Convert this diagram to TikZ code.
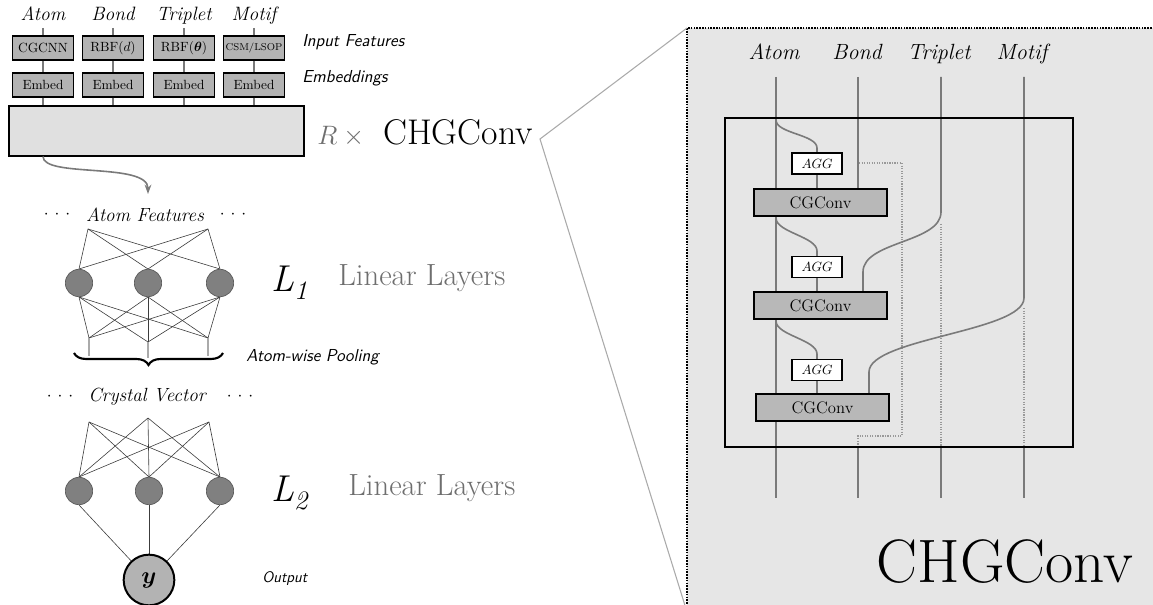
\RequirePackage{fix-cm}
\documentclass[tikz,border=0pt]{standalone}
\usepackage{bm}
\usepackage{fontspec}
\usetikzlibrary{arrows.meta,decorations.pathreplacing,calc}

\definecolor{wirecol}{HTML}{7A7A7A}
\definecolor{panelbg}{HTML}{E6E6E6}
\definecolor{featfill}{HTML}{B3B3B3}
\definecolor{blockbg}{HTML}{E0E0E0}
\definecolor{convfill}{HTML}{B8B8B8}
\definecolor{neuronfill}{HTML}{808080}
\definecolor{neurondraw}{HTML}{5A5A5A}
\definecolor{outfill}{HTML}{B3B3B3}
\definecolor{zoomcol}{HTML}{AAAAAA}
\definecolor{softtext}{HTML}{6E6E6E}
\definecolor{netcol}{HTML}{3C3C3C}
\definecolor{dotcol}{HTML}{999999}

\newcommand\fsz[1]{\fontsize{#1}{#1}\selectfont}

\pgfdeclarelayer{panel}
\pgfdeclarelayer{wires}
\pgfsetlayers{panel,wires,main}

\tikzset{
  colhead/.style={inner sep=0pt, anchor=base, font=\fsz{14.5}\itshape},
  sidenote/.style={inner sep=0pt, anchor=west, font=\fsz{13}\sffamily\itshape},
  featbox/.style={draw=black, line width=0.8pt, fill=featfill, minimum width=45.75pt,
    minimum height=18pt, inner sep=0pt, font=\fsz{10}},
  thinwire/.style={draw=wirecol, line width=1pt},
  bigblock/.style={draw=black, line width=0.8pt, fill=blockbg, minimum width=221.25pt,
    minimum height=37.5pt, inner sep=0pt},
  feedarrow/.style={draw=wirecol, line width=1.2pt, -{Stealth[length=7pt,width=5pt]}},
  neuron/.style={circle, draw=neurondraw, line width=0.5pt, fill=neuronfill,
    minimum size=20.5pt, inner sep=0pt},
  outnode/.style={circle, draw=black, line width=1.5pt, fill=outfill,
    minimum size=38pt, inner sep=0pt, font=\fsz{18}},
  netline/.style={draw=netcol, line width=0.45pt},
  poolline/.style={draw=zoomcol, line width=0.8pt},
  rowlabel/.style={inner sep=0pt, font=\fsz{14.3}\itshape},
  dotrow/.style={inner sep=0pt, font=\fsz{13}},
  layerlabel/.style={inner sep=0pt, anchor=base west, text=softtext, font=\fsz{23}},
  zoomline/.style={draw=zoomcol, line width=0.8pt},
  panelborder/.style={draw=black, line width=1.3pt, dash pattern=on 1.2pt off 0.9pt},
  wire/.style={draw=wirecol, line width=1.2pt},
  dotwire/.style={draw=dotcol, line width=0.9pt, densely dotted},
  stackbox/.style={draw=black, line width=1.1pt, minimum width=261pt,
    minimum height=246.75pt, inner sep=0pt},
  aggbox/.style={draw=black, line width=0.8pt, fill=white, minimum width=37.5pt,
    minimum height=15.75pt, inner sep=0pt, font=\fsz{10}},
  convbox/.style={draw=black, line width=1.4pt, fill=convfill, minimum width=99.75pt,
    minimum height=20.25pt, inner sep=0pt, font=\fsz{12.5}},
  panelhead/.style={inner sep=0pt, anchor=base, font=\fsz{16.5}\itshape},
}

\begin{document}
\begin{tikzpicture}[x=0.75pt,y=-0.75pt]
\useasboundingbox (0,0) rectangle (1153,605);
\clip (0,0) rectangle (1153,605);

% ================= magnified CHGConv panel =================
\coordinate (pnw) at (687,28);
\coordinate (psw) at (687,612);
\coordinate (pne) at (1160,28);
\begin{pgfonlayer}{panel}
\fill[panelbg] (pnw) rectangle (1160,612);
\draw[panelborder] (pne) -- (pnw) -- (psw);
\end{pgfonlayer}

% ================= input features and embeddings =================
\node[bigblock] (block) at (156.5,131) {};

\node[colhead] (la) at (43,21) {Atom};
\node[colhead] (lb) at (113,21) {Bond};
\node[colhead] (lt) at (184,21) {Triplet};
\node[colhead] (lm) at (254,21) {Motif};

\coordinate (ta) at (43,28);
\coordinate (tb) at (113,28);
\coordinate (tt) at (184,28);
\coordinate (tm) at (254,28);

\node[featbox] (ina) at (43,48) {CGCNN};
\node[featbox] (inb) at (113,48) {RBF($d$)};
\node[featbox] (int) at (184,48) {RBF($\bm{\theta}$)};
\node[featbox] (inm) at (254,48) {\fsz{7.5}CSM/LSOP};

\node[featbox] (ema) at (43,85) {Embed};
\node[featbox] (emb) at (113,85) {Embed};
\node[featbox] (emt) at (184,85) {Embed};
\node[featbox] (emm) at (254,85) {Embed};

\foreach \c in {a,b,t,m} {
  \draw[thinwire] (t\c) -- (in\c.north);
  \draw[thinwire] (in\c.south) -- (em\c.north);
  \draw[thinwire] (em\c.south) -- (em\c.south |- block.north);
}

\node[sidenote] (inlbl) at (302,42) {Input Features};
\node[sidenote] (emlbl) at (302,78) {Embeddings};

\node[inner sep=0pt, anchor=base west] (rchg) at (317,145)
  {{\fsz{20}\color{softtext}$R\times{}$}\hspace{10pt}{\fsz{26.8}CHGConv}};

% zoom-out lines to the panel
\coordinate (ztip) at (540,139);
\draw[zoomline] (pnw) -- (ztip) -- (psw);

% atom features leave the stack
\coordinate (featin) at (148,194);
\draw[feedarrow] (ina |- block.south) .. controls (43,178) and (148,162) .. (featin);

% ================= first linear layers =================
\node[dotrow] (afl) at (57,215) {$\cdot$\hspace{4.5pt}$\cdot$\hspace{4.5pt}$\cdot$};
\node[rowlabel] (af) at (145,215) {Atom Features};
\node[dotrow] (afr) at (233,215) {$\cdot$\hspace{4.5pt}$\cdot$\hspace{4.5pt}$\cdot$};

\coordinate (fa1) at (88,229);
\coordinate (fa2) at (208,229);
\node[neuron] (h1) at (79,283) {};
\node[neuron] (h2) at (148,283) {};
\node[neuron] (h3) at (220,283) {};
\begin{pgfonlayer}{wires}
\foreach \s in {fa1,fa2} \foreach \n in {h1,h2,h3} \draw[netline] (\s) -- (\n.north);
\end{pgfonlayer}

\coordinate (pb1) at (89,338);
\coordinate (pb2) at (148,342);
\coordinate (pb3) at (208,338);
\begin{pgfonlayer}{wires}
\foreach \n in {h1,h2,h3} \foreach \s in {pb1,pb2,pb3} \draw[netline] (\n.south) -- (\s);
\end{pgfonlayer}

\coordinate (pe1) at (89,356);
\coordinate (pe2) at (148,358);
\coordinate (pe3) at (208,356);
\foreach \i in {1,2,3} \draw[poolline] (pb\i) -- (pe\i);

\coordinate (brl) at (74,353);
\coordinate (brr) at (223,353);
\draw[line width=1.6pt, decorate, decoration={brace, mirror, amplitude=9pt}] (brl) -- (brr);
\node[sidenote] (pool) at (246,357) {Atom-wise Pooling};

\node[inner sep=0pt, anchor=base west] (l1) at (271,292)
  {{\fsz{28}\itshape L}\raisebox{-6pt}{\fsz{20}\itshape 1}};
\node[layerlabel] (lin1) at (338,286) {Linear Layers};

% ================= second linear layers =================
\node[dotrow] (cvl) at (60,397) {$\cdot$\hspace{4.5pt}$\cdot$\hspace{4.5pt}$\cdot$};
\node[rowlabel] (cv) at (147,397) {Crystal Vector};
\node[dotrow] (cvr) at (240,397) {$\cdot$\hspace{4.5pt}$\cdot$\hspace{4.5pt}$\cdot$};

\coordinate (cv1) at (89,422);
\coordinate (cv2) at (148,418);
\coordinate (cv3) at (209,422);
\node[neuron] (g1) at (79,491) {};
\node[neuron] (g2) at (149,491) {};
\node[neuron] (g3) at (220,491) {};
\node[outnode] (y) at (149,580) {$\bm{y}$};
\begin{pgfonlayer}{wires}
\foreach \s in {cv1,cv2,cv3} \foreach \n in {g1,g2,g3} \draw[netline] (\s) -- (\n.north);
\foreach \n in {g1,g2,g3} \draw[netline] (\n.south) -- (y);
\end{pgfonlayer}
\node[sidenote, font=\fsz{11.5}\sffamily\itshape] (outlbl) at (262,579) {Output};

\node[inner sep=0pt, anchor=base west] (l2) at (271,502)
  {{\fsz{28}\itshape L}\raisebox{-6pt}{\fsz{20}\itshape 2}};
\node[layerlabel] (lin2) at (348,496) {Linear Layers};

% ================= panel contents =================
\node[panelhead] (pa) at (774,60) {Atom};
\node[panelhead] (pb) at (857,60) {Bond};
\node[panelhead] (pt) at (939,60) {Triplet};
\node[panelhead] (pm) at (1022,60) {Motif};

\node[stackbox] (stack) at (899,282.5) {};

\node[aggbox] (agg1) at (817,163.5) {$AGG$};
\node[aggbox] (agg2) at (817,267) {$AGG$};
\node[aggbox] (agg3) at (817,370) {$AGG$};
\node[convbox] (cg1) at (820.5,202.5) {CGConv};
\node[convbox] (cg2) at (820.5,305.5) {CGConv};
\node[convbox] (cg3) at (822.5,407.5) {CGConv};

\coordinate (wa0) at (776,77);   \coordinate (wa1) at (776,498);
\coordinate (wb0) at (858,77);   \coordinate (wb1) at (858,498);
\coordinate (wt0) at (941,77);   \coordinate (wt1) at (941,498);
\coordinate (wm0) at (1024,77);  \coordinate (wm1) at (1024,498);

\coordinate (ab1) at (776,120);  \coordinate (ae1) at (817,148);
\coordinate (ab2) at (776,218);  \coordinate (ae2) at (817,251);
\coordinate (ab3) at (776,321);  \coordinate (ae3) at (817,354);
\coordinate (bd0) at (859,163);
\coordinate (bd1) at (902,163);
\coordinate (bd2) at (902,436);
\coordinate (bd3) at (858,436);
\coordinate (bd4) at (858,447);
\coordinate (tb1) at (941,212);
\coordinate (te1) at (863,272);
\coordinate (td0) at (941,224);
\coordinate (td1) at (941,447);
\coordinate (mb1) at (1024,298);
\coordinate (me1) at (869,372);
\coordinate (md0) at (1024,308);
\coordinate (md1) at (1024,447);

\begin{pgfonlayer}{wires}
% atom stream with its copies into the aggregators
\draw[wire] (wa0) -- (wa1);
\draw[wire] (ab1) to[out=-90,in=90,looseness=0.7] (ae1) -- (agg1.north);
\draw[wire] (ab2) to[out=-90,in=90,looseness=0.7] (ae2) -- (agg2.north);
\draw[wire] (ab3) to[out=-90,in=90,looseness=0.7] (ae3) -- (agg3.north);
\draw[wire] (agg1.south) -- (agg1.south |- cg1.north);
\draw[wire] (agg2.south) -- (agg2.south |- cg2.north);
\draw[wire] (agg3.south) -- (agg3.south |- cg3.north);

% bond stream
\draw[wire] (wb0) -- (wb0 |- cg1.north);
\draw[dotwire] (bd0) -- (bd1) -- (bd2) -- (bd3) -- (bd4);
\draw[wire] (bd4) -- (wb1);

% triplet stream
\draw[wire] (wt0) -- (tb1) to[out=-90,in=90,looseness=0.8] (te1) -- (te1 |- cg2.north);
\draw[dotwire] (td0) -- (td1);
\draw[wire] (td1) -- (wt1);

% motif stream
\draw[wire] (wm0) -- (mb1) to[out=-90,in=90,looseness=0.5] (me1) -- (me1 |- cg3.north);
\draw[dotwire] (md0) -- (md1);
\draw[wire] (md1) -- (wm1);
\end{pgfonlayer}

\node[inner sep=0pt, anchor=base, font=\fsz{46}] (bigtitle) at (1005,582) {CHGConv};
\end{tikzpicture}
\end{document}
